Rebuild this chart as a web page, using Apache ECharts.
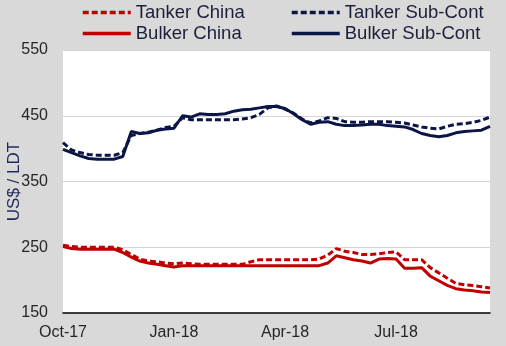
<!DOCTYPE html>
<html>
<head>
<meta charset="utf-8">
<script src="https://cdn.jsdelivr.net/npm/echarts@6/dist/echarts.min.js"></script>
<style>
  html, body { margin: 0; padding: 0; background: #d9d9d9; }
  #chart { width: 506px; height: 346px; }
</style>
</head>
<body>
<div id="chart"></div>
<script>
// Weekly demolition prices, US$ per light displacement tonne (Oct-17 to Sep-18)
const startDate = '2017-10-02';
const weekCount = 51;
const tickWeeks = [0, 13, 26, 39];
const tickLabels = ['Oct-17', 'Jan-18', 'Apr-18', 'Jul-18'];

const tankerChina = [253, 251, 250, 250, 250, 250, 250, 246, 239, 232,
  229, 228, 226, 225, 226, 225, 224, 224, 224, 224,
  224, 224, 228, 231, 231, 231, 231, 231, 231, 231,
  232, 238, 248, 244, 242, 239, 239, 240, 242, 243,
  231, 231, 231, 219, 211, 203, 195, 193, 192, 190, 188];

const tankerSubCont = [409, 398, 394, 391, 390, 390, 390, 394, 420, 423,
  425, 428, 432, 434, 447, 444, 444, 444, 444, 444,
  444, 445, 447, 452, 462, 465, 460, 454, 445, 439,
  442, 447, 446, 441, 440, 440, 441, 441, 441, 440,
  439, 436, 433, 431, 430, 434, 437, 438, 440, 443, 448];

const bulkerChina = [251, 248, 247, 247, 247, 247, 247, 242, 235, 229,
  226, 224, 222, 220, 222, 222, 222, 222, 222, 222,
  222, 222, 222, 222, 222, 222, 222, 222, 222, 222,
  222, 226, 237, 234, 231, 229, 226, 232, 233, 232,
  218, 218, 219, 206, 199, 192, 187, 185, 184, 182, 181];

const bulkerSubCont = [399, 394, 389, 385, 384, 384, 384, 388, 426, 423,
  424, 428, 430, 431, 450, 448, 453, 452, 452, 453,
  457, 459, 460, 462, 464, 464, 461, 453, 444, 437,
  440, 441, 437, 435, 435, 436, 437, 437, 435, 434,
  433, 429, 423, 420, 418, 420, 424, 426, 427, 428, 434];

// week category strings
const weeks = [];
{
  const d0 = new Date(startDate + 'T00:00:00Z');
  for (let i = 0; i < weekCount; i++) {
    const d = new Date(d0.getTime() + i * 7 * 86400000);
    weeks.push(d.toISOString().slice(0, 10));
  }
}

const RED = '#c00000';
const NAVY = '#0c1646';
const FONT = 'Liberation Sans, Arial, sans-serif';

function lineSeries(name, data, color, dashed) {
  return {
    name: name,
    type: 'line',
    data: data,
    symbol: 'none',
    smooth: false,
    lineStyle: { color: color, width: 3, type: dashed ? [6, 3] : 'solid' },
    itemStyle: { color: color }
  };
}

const legendCommon = {
  orient: 'vertical',
  top: -2,
  itemWidth: 48,
  itemHeight: 14,
  itemGap: 2,
  itemStyle: { opacity: 0 },
  lineStyle: { width: 3.5 },
  textStyle: { fontFamily: FONT, fontSize: 18.5, lineHeight: 18, color: '#1c1f3a' }
};

const chart = echarts.init(document.getElementById('chart'), null, { renderer: 'canvas' });
chart.setOption({
  backgroundColor: '#d9d9d9',
  animation: false,
  legend: [
    Object.assign({}, legendCommon, { left: 76, data: ['Tanker China', 'Bulker China'] }),
    Object.assign({}, legendCommon, { left: 285, data: ['Tanker Sub-Cont', 'Bulker Sub-Cont'] })
  ],
  grid: {
    left: 63, right: 16, top: 50, bottom: 33,
    outerBoundsMode: 'none',
    containLabel: false,
    show: true, backgroundColor: '#ffffff', borderWidth: 0
  },
  xAxis: {
    type: 'category',
    data: weeks,
    boundaryGap: false,
    axisLine: { show: true, lineStyle: { color: '#000000', width: 1.5 } },
    axisTick: { show: false },
    splitLine: { show: false },
    axisLabel: {
      interval: function (i) { return tickWeeks.indexOf(i) >= 0; },
      formatter: function (v, i) {
        const k = tickWeeks.indexOf(i);
        return k >= 0 ? tickLabels[k] : '';
      },
      margin: 12,
      fontFamily: FONT, fontSize: 16, color: '#262626'
    }
  },
  yAxis: {
    type: 'value',
    min: 150, max: 550, interval: 100,
    name: 'US$ / LDT',
    nameLocation: 'middle',
    nameGap: 40,
    nameMoveOverlap: false,
    nameTextStyle: { fontFamily: FONT, fontSize: 17, color: '#1f2a5a' },
    axisLine: { show: false },
    axisTick: { show: false },
    splitLine: { show: true, lineStyle: { color: '#d4d4d4', width: 1 } },
    axisLabel: { margin: 15, fontFamily: FONT, fontSize: 16, color: '#262626' }
  },
  series: [
    lineSeries('Tanker China', tankerChina, RED, true),
    lineSeries('Bulker China', bulkerChina, RED, false),
    lineSeries('Tanker Sub-Cont', tankerSubCont, NAVY, true),
    lineSeries('Bulker Sub-Cont', bulkerSubCont, NAVY, false)
  ]
});
</script>
</body>
</html>
